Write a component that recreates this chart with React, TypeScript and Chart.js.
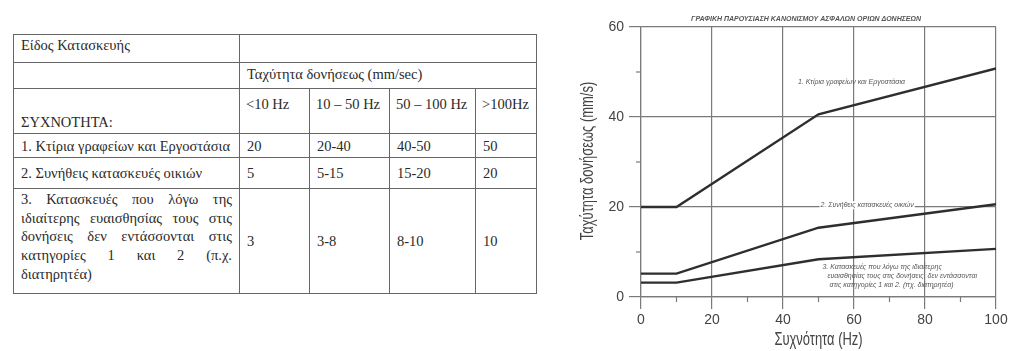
import React, { useEffect, useRef } from "react";
import { Chart, registerables } from "chart.js";

Chart.register(...registerables);

// ---------- table data ----------
const tableTitle = "Είδος Κατασκευής";
const speedHeader = "Ταχύτητα δονήσεως (mm/sec)";
const freqHeader = "ΣΥΧΝΟΤΗΤΑ:";
const frequencyBands = ["<10 Hz", "10 – 50 Hz", "50 – 100 Hz", ">100Hz"];
const rowNames1 = ["1. Κτίρια γραφείων και Εργοστάσια"];
const rowNames2 = ["2. Συνήθεις κατασκευές οικιών"];
const rowNames3 = [
  "3. Κατασκευές που λόγω της",
  "ιδιαίτερης ευαισθησίας τους στις",
  "δονήσεις δεν εντάσσονται στις",
  "κατηγορίες 1 και 2 (π.χ.",
  "διατηρητέα)",
];
const rowValues1 = ["20", "20-40", "40-50", "50"];
const rowValues2 = ["5", "5-15", "15-20", "20"];
const rowValues3 = ["3", "3-8", "8-10", "10"];

// ---------- chart data ----------
const frequencyHz = [0, 10, 50, 100];
const category1 = [20, 20, 40.6, 50.8];
const category2 = [5.2, 5.2, 15.4, 20.6];
const category3 = [3.2, 3.2, 8.4, 10.7];
const xMinorTicks = [10, 30, 50, 70, 90];
const yMinorTicks = [10, 30, 50];

const chartTitle = "ΓΡΑΦΙΚΗ ΠΑΡΟΥΣΙΑΣΗ ΚΑΝΟΝΙΣΜΟΥ ΑΣΦΑΛΩΝ ΟΡΙΩΝ ΔΟΝΗΣΕΩΝ";
const label1 = "1. Κτίρια γραφείων και Εργοστάσια";
const label2 = "2. Συνήθεις κατασκευές οικιών";
const label3 = [
  "3. Κατασκευές που λόγω της ιδιαίτερης",
  "ευαισθησίας τους στις δονήσεις, δεν εντάσσονται",
  "στις κατηγορίες 1 και 2. (πχ. διατηρητέα)",
];
const xTitle = "Συχνότητα (Hz)";
const yTitle = "Ταχύτητα δονήσεως (mm/s)";

const GRID = "#7a7a7a";
const LINE = "#2e2e2e";
const TXT = "#444";
const SANS = "'Liberation Sans', Arial, sans-serif";

const toPoints = (ys: number[]) => frequencyHz.map((x, i) => ({ x, y: ys[i] }));

const decorPlugin = {
  id: "decor",
  afterDraw(chart: any) {
    const { ctx, chartArea } = chart;
    const xs = chart.scales.x;
    const ys = chart.scales.y;
    ctx.save();
    // minor ticks
    ctx.strokeStyle = GRID;
    ctx.lineWidth = 1.2;
    xMinorTicks.forEach((v) => {
      const px = xs.getPixelForValue(v);
      ctx.beginPath();
      ctx.moveTo(px, chartArea.bottom);
      ctx.lineTo(px, chartArea.bottom + 5);
      ctx.stroke();
    });
    yMinorTicks.forEach((v) => {
      const py = ys.getPixelForValue(v);
      ctx.beginPath();
      ctx.moveTo(chartArea.left, py);
      ctx.lineTo(chartArea.left - 5, py);
      ctx.stroke();
    });
    // condensed axis titles
    ctx.fillStyle = TXT;
    ctx.font = "18px " + SANS;
    ctx.textAlign = "center";
    ctx.textBaseline = "middle";
    const cx = (chartArea.left + chartArea.right) / 2;
    const cy = (chartArea.top + chartArea.bottom) / 2;
    ctx.save();
    ctx.translate(cx, chartArea.bottom + 43);
    ctx.scale(0.72, 1);
    ctx.fillText(xTitle, 0, 0);
    ctx.restore();
    ctx.save();
    ctx.translate(chartArea.left - 53, cy - 1);
    ctx.rotate(-Math.PI / 2);
    ctx.scale(0.72, 1);
    ctx.fillText(yTitle, 0, 0);
    ctx.restore();
    // title
    ctx.fillStyle = "#555";
    ctx.font = "italic bold 7px " + SANS;
    ctx.fillText(chartTitle, xs.getPixelForValue(46.5), chartArea.top - 8);
    // labels
    ctx.font = "italic 7px " + SANS;
    ctx.fillText(label1, xs.getPixelForValue(59.3), ys.getPixelForValue(47.8));
    const l2x = xs.getPixelForValue(63.7);
    const l2y = ys.getPixelForValue(20.4);
    const w2 = ctx.measureText(label2).width;
    ctx.fillStyle = "#fff";
    ctx.fillRect(l2x - w2 / 2 - 1, l2y - 4, w2 + 2, 8);
    ctx.fillStyle = "#555";
    ctx.fillText(label2, l2x, l2y);
    ctx.textAlign = "left";
    const l3x = [51.1, 52.5, 53.1];
    const l3y = [6.67, 4.67, 2.76];
    label3.forEach((t, i) => {
      ctx.fillText(t, xs.getPixelForValue(l3x[i]), ys.getPixelForValue(l3y[i]));
    });
    ctx.restore();
  },
};

function VibrationChart() {
  const ref = useRef<HTMLCanvasElement | null>(null);
  useEffect(() => {
    if (!ref.current) return;
    const chart = new Chart(ref.current, {
      type: "line",
      data: {
        datasets: [
          { label: label1, data: toPoints(category1) },
          { label: label2, data: toPoints(category2) },
          { label: label3.join(" "), data: toPoints(category3) },
        ].map((d) => ({
          ...d,
          borderColor: LINE,
          borderWidth: 2.4,
          pointRadius: 0,
          fill: false,
          tension: 0,
        })),
      },
      options: {
        responsive: false,
        animation: false,
        events: [],
        layout: { padding: { top: 27, right: 28, left: 0, bottom: 0 } },
        plugins: { legend: { display: false }, tooltip: { enabled: false }, title: { display: false } },
        scales: {
          x: {
            type: "linear",
            min: 0,
            max: 100,
            afterFit: (s: any) => {
              s.height = 54;
            },
            ticks: {
              stepSize: 20,
              color: TXT,
              padding: 3,
              font: { family: SANS, size: 14 },
            },
            grid: { color: GRID, tickColor: GRID, lineWidth: 1.2, tickLength: 12 },
            border: { color: GRID, width: 1.2 },
            title: { display: false, text: xTitle },
          },
          y: {
            type: "linear",
            min: 0,
            max: 60,
            afterFit: (s: any) => {
              s.width = 81;
            },
            ticks: {
              stepSize: 20,
              color: TXT,
              padding: 5,
              font: { family: SANS, size: 14 },
            },
            grid: { color: GRID, tickColor: GRID, lineWidth: 1.2, tickLength: 12 },
            border: { color: GRID, width: 1.2 },
            title: { display: false, text: yTitle },
          },
        },
      },
      plugins: [decorPlugin],
    });
    return () => chart.destroy();
  }, []);
  return <canvas ref={ref} width={464} height={351} style={{ position: "absolute", left: 560, top: 0, width: 464, height: 351 }} />;
}

const border = "1px solid #666";
const cell: React.CSSProperties = {
  border,
  padding: "0 7px",
  verticalAlign: "middle",
  textAlign: "left",
  whiteSpace: "nowrap",
  overflow: "visible",
};

function ValueCells({ values }: { values: string[] }) {
  return (
    <>
      {values.map((v, i) => (
        <td key={i} style={cell}>
          {v}
        </td>
      ))}
    </>
  );
}

function VibrationTable() {
  return (
    <table
      style={{
        position: "absolute",
        left: 13,
        top: 34,
        width: 523,
        tableLayout: "fixed",
        borderCollapse: "collapse",
        fontFamily: "'Liberation Serif', 'Times New Roman', serif",
        fontSize: 14.5,
        lineHeight: "16px",
        color: "#2a2a2a",
      }}
    >
      <colgroup>
        <col style={{ width: 226 }} />
        <col style={{ width: 70 }} />
        <col style={{ width: 80 }} />
        <col style={{ width: 86 }} />
        <col style={{ width: 61 }} />
      </colgroup>
      <tbody>
        <tr style={{ height: 28 }}>
          <td style={{ ...cell, verticalAlign: "top", paddingTop: 2 }}>{tableTitle}</td>
          <td style={cell} colSpan={4}></td>
        </tr>
        <tr style={{ height: 26 }}>
          <td style={cell}></td>
          <td style={{ ...cell, verticalAlign: "top", paddingTop: 3 }} colSpan={4}>
            {speedHeader}
          </td>
        </tr>
        <tr style={{ height: 45 }}>
          <td style={{ ...cell, verticalAlign: "bottom", paddingBottom: 3 }}>{freqHeader}</td>
          {frequencyBands.map((b, i) => (
            <td key={i} style={{ ...cell, verticalAlign: "top", paddingTop: 7, paddingLeft: 6, paddingRight: 2 }}>
              {b}
            </td>
          ))}
        </tr>
        <tr style={{ height: 24 }}>
          <td style={cell}>{rowNames1[0]}</td>
          <ValueCells values={rowValues1} />
        </tr>
        <tr style={{ height: 31 }}>
          <td style={cell}>{rowNames2[0]}</td>
          <ValueCells values={rowValues2} />
        </tr>
        <tr style={{ height: 105 }}>
          <td style={{ ...cell, whiteSpace: "normal", verticalAlign: "top", paddingTop: 1, lineHeight: "18.7px" }}>
            {rowNames3.map((t, i) => (
              <div
                key={i}
                style={{ textAlign: "justify", textAlignLast: i < rowNames3.length - 1 ? "justify" : "left" }}
              >
                {t}
              </div>
            ))}
          </td>
          <ValueCells values={rowValues3} />
        </tr>
      </tbody>
    </table>
  );
}

export default function App() {
  return (
    <div
      style={{
        position: "fixed",
        left: 0,
        top: 0,
        width: 1024,
        height: 351,
        background: "#fff",
        overflow: "hidden",
      }}
    >
      <VibrationTable />
      <VibrationChart />
    </div>
  );
}
